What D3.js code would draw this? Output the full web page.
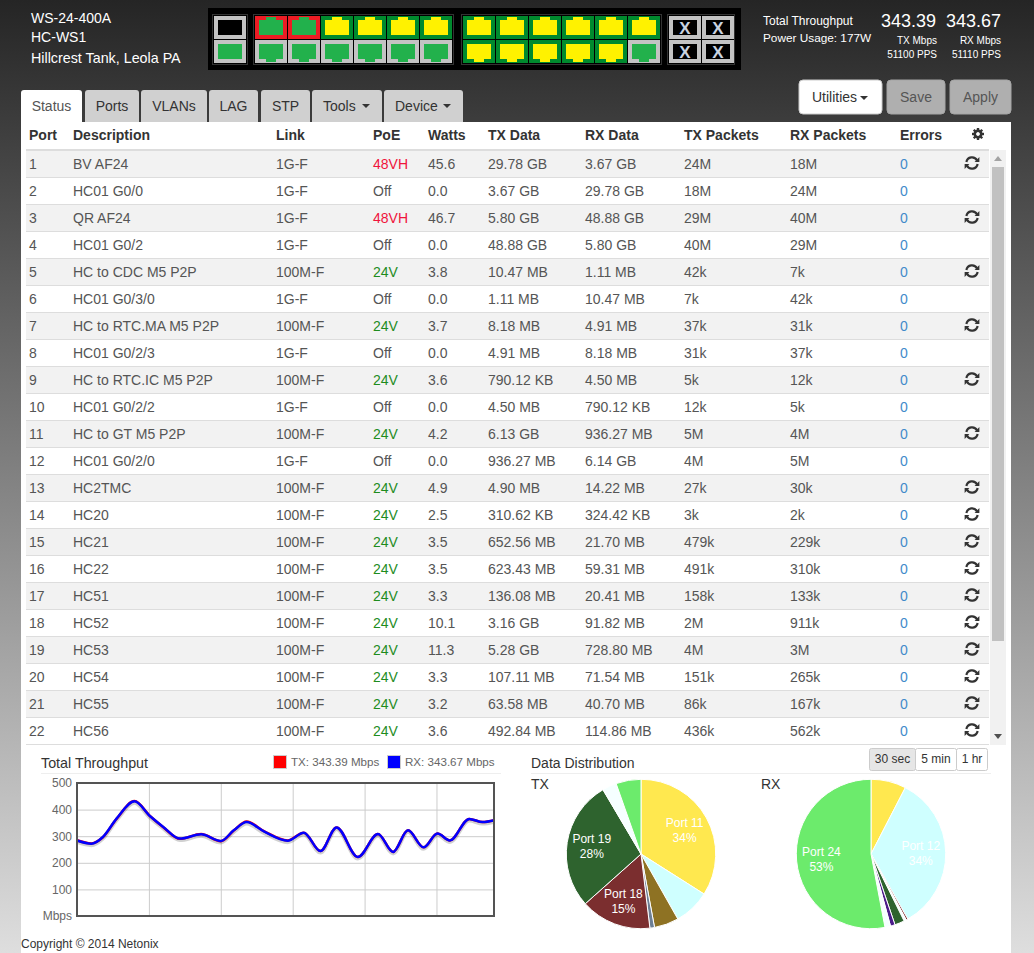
<!DOCTYPE html>
<html>
<head>
<meta charset="utf-8">
<script src="https://cdnjs.cloudflare.com/ajax/libs/d3/7.8.5/d3.min.js"></script>
<style>
html, body { margin: 0; padding: 0; overflow: hidden; }
svg { display: block; font-family: "Liberation Sans", Arial, sans-serif; }
.axis path { display: none; }
</style>
</head>
<body>
<div id="chart"></div>
<script>
// port table
var ports = d3.range(1, 23);
var descriptions = ["BV AF24", "HC01 G0/0", "QR AF24", "HC01 G0/2", "HC to CDC M5 P2P", "HC01 G0/3/0", "HC to RTC.MA M5 P2P", "HC01 G0/2/3", "HC to RTC.IC M5 P2P", "HC01 G0/2/2", "HC to GT M5 P2P", "HC01 G0/2/0", "HC2TMC", "HC20", "HC21", "HC22", "HC51", "HC52", "HC53", "HC54", "HC55", "HC56"];
var links = ["1G-F", "1G-F", "1G-F", "1G-F", "100M-F", "1G-F", "100M-F", "1G-F", "100M-F", "1G-F", "100M-F", "1G-F", "100M-F", "100M-F", "100M-F", "100M-F", "100M-F", "100M-F", "100M-F", "100M-F", "100M-F", "100M-F"];
var poe = ["48VH", "Off", "48VH", "Off", "24V", "Off", "24V", "Off", "24V", "Off", "24V", "Off", "24V", "24V", "24V", "24V", "24V", "24V", "24V", "24V", "24V", "24V"];
var watts = ["45.6", "0.0", "46.7", "0.0", "3.8", "0.0", "3.7", "0.0", "3.6", "0.0", "4.2", "0.0", "4.9", "2.5", "3.5", "3.5", "3.3", "10.1", "11.3", "3.3", "3.2", "3.6"];
var txData = ["29.78 GB", "3.67 GB", "5.80 GB", "48.88 GB", "10.47 MB", "1.11 MB", "8.18 MB", "4.91 MB", "790.12 KB", "4.50 MB", "6.13 GB", "936.27 MB", "4.90 MB", "310.62 KB", "652.56 MB", "623.43 MB", "136.08 MB", "3.16 GB", "5.28 GB", "107.11 MB", "63.58 MB", "492.84 MB"];
var rxData = ["3.67 GB", "29.78 GB", "48.88 GB", "5.80 GB", "1.11 MB", "10.47 MB", "4.91 MB", "8.18 MB", "4.50 MB", "790.12 KB", "936.27 MB", "6.14 GB", "14.22 MB", "324.42 KB", "21.70 MB", "59.31 MB", "20.41 MB", "91.82 MB", "728.80 MB", "71.54 MB", "40.70 MB", "114.86 MB"];
var txPackets = ["24M", "18M", "29M", "40M", "42k", "7k", "37k", "31k", "5k", "12k", "5M", "4M", "27k", "3k", "479k", "491k", "158k", "2M", "4M", "151k", "86k", "436k"];
var rxPackets = ["18M", "24M", "40M", "29M", "7k", "42k", "31k", "37k", "12k", "5k", "4M", "5M", "30k", "2k", "229k", "310k", "133k", "911k", "3M", "265k", "167k", "562k"];
var errors = ports.map(function() { return "0"; });
var headers = ["Port", "Description", "Link", "PoE", "Watts", "TX Data", "RX Data", "TX Packets", "RX Packets", "Errors"];
var tabNames = ["Status", "Ports", "VLANs", "LAG", "STP", "Tools", "Device"];

// front panel, top row then bottom row, each group left to right
var topBack = ["red", "red", "dark", "dark", "dark", "dark", "dark", "dark", "dark", "dark", "dark", "dark"];
var topLink = ["green", "green", "yellow", "yellow", "yellow", "yellow", "yellow", "yellow", "yellow", "yellow", "yellow", "yellow"];
var bottomBack = ["grey", "grey", "grey", "grey", "grey", "grey", "dark", "dark", "dark", "dark", "dark", "grey"];
var bottomLink = ["green", "green", "green", "green", "green", "green", "yellow", "yellow", "yellow", "yellow", "yellow", "green"];

// throughput history
var seconds = [0, 1, 1.8, 2.75, 4, 5.07, 6, 7.16, 8.63, 10, 10.9, 11.8, 13, 14.65, 15.77, 16.93, 18.05, 19.53, 20.93, 21.98, 23.02, 24.1, 25.07, 25.93, 27.28, 28.2, 29.03];
var txMbps = [285, 273, 296, 365, 432, 376, 334, 290, 308, 281, 321, 355, 319, 284, 313, 244, 333, 222, 308, 241, 322, 258, 310, 284, 365, 353, 360];
var rxMbps = [284, 272, 297, 366, 431, 376, 335, 291, 307, 282, 322, 353, 318, 283, 313, 244, 333, 222, 308, 241, 322, 258, 310, 284, 365, 353, 360];
var yTicks = [100, 200, 300, 400, 500];
var xTicks = [5, 10, 15, 20, 25];

// data distribution
var txPorts = ["Port 11", "Port 12", "Port 16", "Port 17", "Port 18", "Port 19", "Port 23", "Port 24"];
var txShare = [34, 7.8, 5.3, 1, 15.3, 28.1, 3.1, 5.4];
var txColors = ["#ffe84f", "#cfffff", "#8e7223", "#6d7f94", "#7b2e2f", "#2e632e", "#f5ffff", "#6ceb6c"];
var rxPorts = ["Port 11", "Port 12", "Port 18", "Port 19", "Port 20", "Port 21", "Port 23", "Port 24"];
var rxShare = [7.6, 34.2, 0.4, 0.5, 2.1, 1, 1.2, 53];
var rxColors = ["#ffe84f", "#cfffff", "#7b2e2f", "#f5ffff", "#2e632e", "#4b1c8a", "#f5ffff", "#6ceb6c"];

var svg = d3.select("#chart").append("svg").attr("width", 1034).attr("height", 953);

var defs = svg.append("defs");
var grad = defs.append("linearGradient").attr("id", "page").attr("x1", 0).attr("x2", 0).attr("y1", 0).attr("y2", 1);
grad.append("stop").attr("offset", "0%").attr("stop-color", "#252525");
grad.append("stop").attr("offset", "100%").attr("stop-color", "#dedede");
defs.append("clipPath").attr("id", "rows").append("rect").attr("x", 21).attr("y", 150).attr("width", 990).attr("height", 595);

svg.append("rect").attr("width", 1034).attr("height", 953).attr("fill", "url(#page)");
svg.append("rect").attr("x", 21).attr("y", 122).attr("width", 990).attr("height", 831).attr("fill", "#fff");

function label(parent, str, x, y, size, color, anchor, weight) {
    return parent.append("text").text(str)
        .attr("x", x).attr("y", y)
        .attr("font-size", size).attr("fill", color)
        .attr("text-anchor", anchor || "start")
        .attr("font-weight", weight || "normal");
}

function drawHeader() {
    label(svg, "WS-24-400A", 31, 23, 14, "#fff");
    label(svg, "HC-WS1", 31, 42, 14, "#fff");
    label(svg, "Hillcrest Tank, Leola PA", 31, 63, 14.3, "#fff");
    label(svg, "Total Throughput", 763, 25, 12, "#fff");
    label(svg, "Power Usage: 177W", 763, 42, 11.8, "#fff");
    label(svg, "343.39", 881, 27, 18, "#fff");
    label(svg, "343.67", 946, 27, 18, "#fff");
    label(svg, "TX Mbps", 937, 44, 10, "#fff", "end");
    label(svg, "RX Mbps", 1001, 44, 10, "#fff", "end");
    label(svg, "51100 PPS", 937, 58, 10, "#fff", "end");
    label(svg, "51110 PPS", 1001, 58, 10, "#fff", "end");
}

function drawPanel() {
    var backs = {red: "#ed1c24", dark: "#008a2e", grey: "#c3c3c3"};
    var fills = {green: "#22b14c", yellow: "#fff200"};
    var cellW = 33, cellH = 24, rowTop = 16;

    svg.append("rect").attr("x", 208).attr("y", 8).attr("width", 533).attr("height", 62).attr("fill", "#000");

    [[212.5, 35], [253.5, 200], [461.5, 200], [667.5, 67]].forEach(function(g) {
        svg.append("rect").attr("x", g[0]).attr("y", 14.5).attr("width", g[1]).attr("height", 50)
            .attr("fill", "none").attr("stroke", "#333");
    });

    // a port: coloured square with the RJ45 clip on the outer edge
    function port(x, y, back, fill, up) {
        var cell = svg.append("g").attr("transform", "translate(" + x + "," + y + ")");
        cell.append("rect").attr("width", cellW - 1).attr("height", cellH - 1).attr("fill", back);
        cell.append("rect").attr("x", 4).attr("y", 4).attr("width", 24).attr("height", 15).attr("fill", fill);
        cell.append("rect").attr("x", 11).attr("y", up ? 1 : 19).attr("width", 10).attr("height", 3).attr("fill", fill);
    }

    var xs = d3.range(12).map(function(i) { return i < 6 ? 255 + i * cellW : 463 + (i - 6) * cellW; });
    xs.forEach(function(x, i) {
        port(x, rowTop, backs[topBack[i]], fills[topLink[i]], true);
        port(x, rowTop + cellH, backs[bottomBack[i]], fills[bottomLink[i]], false);
    });

    // console and management jacks
    svg.append("rect").attr("x", 214).attr("y", 16).attr("width", 32).attr("height", 23).attr("fill", "#c3c3c3");
    svg.append("rect").attr("x", 218).attr("y", 20).attr("width", 24).attr("height", 15).attr("fill", "#000");
    svg.append("rect").attr("x", 214).attr("y", 40).attr("width", 32).attr("height", 23).attr("fill", "#c3c3c3");
    svg.append("rect").attr("x", 218).attr("y", 44).attr("width", 24).attr("height", 15).attr("fill", "#22b14c");

    // SFP cages, empty
    [669, 702].forEach(function(x) {
        [16, 40].forEach(function(y) {
            svg.append("rect").attr("x", x).attr("y", y).attr("width", 32).attr("height", 23).attr("fill", "#c3c3c3");
            svg.append("rect").attr("x", x + 4).attr("y", y + 4).attr("width", 24).attr("height", 15).attr("fill", "#000");
            label(svg, "X", x + 16, y + 18, 17, "#c9d3e0", "middle", "bold");
        });
    });
}

function caret(parent, x, y, color) {
    parent.append("path").attr("d", d3.line()([[x, y], [x + 8, y], [x + 4, y + 4]])).attr("fill", color);
}

function drawTabs() {
    var lefts = [21, 85, 141, 209, 261, 312, 384];
    var rights = [82, 139, 207, 258, 310, 382, 463];
    tabNames.forEach(function(name, i) {
        var active = i == 0;
        svg.append("path")
            .attr("d", "M" + lefts[i] + ",122V93a3,3 0 0 1 3,-3H" + (rights[i] - 3) + "a3,3 0 0 1 3,3V122Z")
            .attr("fill", active ? "#fff" : "#d0d0d0");
        var tx = lefts[i] + (i < 5 ? (rights[i] - lefts[i]) / 2 : 11);
        label(svg, name, tx, 111, 14, active ? "#555" : "#333", i < 5 ? "middle" : "start");
    });
    caret(svg, 362, 104, "#333");
    caret(svg, 443, 104, "#333");

    // buttons on the right
    [[799, 83, "#fff"], [887, 58, "#afafaf"], [950, 61, "#afafaf"]].forEach(function(b) {
        svg.append("rect").attr("x", b[0]).attr("y", 80).attr("width", b[1]).attr("height", 34).attr("rx", 4)
            .attr("fill", b[2]).attr("stroke", b[2] == "#fff" ? "#ccc" : "#a5a5a5").attr("stroke-width", 1);
    });
    label(svg, "Utilities", 812, 102, 14, "#333");
    caret(svg, 860, 96, "#333");
    label(svg, "Save", 916, 102, 14, "#555", "middle");
    label(svg, "Apply", 980.5, 102, 14, "#555", "middle");
}

function gear(parent, x, y) {
    var g = parent.append("g").attr("transform", "translate(" + x + "," + y + ")");
    g.append("circle").attr("r", 3.2).attr("fill", "none").attr("stroke", "#333").attr("stroke-width", 2.6);
    d3.range(8).forEach(function(i) {
        g.append("rect").attr("x", -1.2).attr("y", -6).attr("width", 2.4).attr("height", 2.6)
            .attr("fill", "#333").attr("transform", "rotate(" + i * 45 + ")");
    });
}

function refresh(parent, x, y) {
    var g = parent.append("g").attr("transform", "translate(" + x + "," + y + ")");
    var ring = d3.arc().innerRadius(4.6).outerRadius(6.8);
    g.append("path").attr("d", ring({startAngle: -1.4, endAngle: 1.1})).attr("fill", "#333");
    g.append("path").attr("d", ring({startAngle: 1.74, endAngle: 4.24})).attr("fill", "#333");
    g.append("path").attr("d", d3.line()([[2.6, -1], [7.4, -1], [7.4, -6]])).attr("fill", "#333");
    g.append("path").attr("d", d3.line()([[-2.6, 1], [-7.4, 1], [-7.4, 6]])).attr("fill", "#333");
}

function drawTable() {
    var colX = [29, 73, 276, 373, 428, 488, 585, 684, 790, 900];
    var cols = [ports, descriptions, links, poe, watts, txData, rxData, txPackets, rxPackets, errors];
    var rowY = d3.scaleBand().domain(ports).range([151, 151 + 27 * ports.length]);

    headers.forEach(function(h, i) {
        label(svg, h, colX[i], 140, 14, "#333", "start", "bold");
    });
    gear(svg, 978, 134);
    svg.append("rect").attr("x", 26).attr("y", 149).attr("width", 963).attr("height", 2).attr("fill", "#ddd");

    var body = svg.append("g").attr("clip-path", "url(#rows)");
    var rows = body.selectAll("g.row").data(ports).enter().append("g").attr("class", "row")
        .attr("transform", function(d) { return "translate(0," + rowY(d) + ")"; });

    rows.append("rect").attr("x", 26).attr("width", 963).attr("height", rowY.bandwidth())
        .attr("fill", function(d) { return d % 2 ? "#f2f2f2" : "#fff"; });
    rows.append("rect").attr("x", 26).attr("y", rowY.bandwidth() - 1).attr("width", 963).attr("height", 1).attr("fill", "#ddd");

    cols.forEach(function(col, c) {
        rows.append("text")
            .text(function(d, i) { return col[i]; })
            .attr("x", colX[c]).attr("y", 18)
            .attr("font-size", 14)
            .attr("fill", function(d, i) {
                if (c == 3) return poe[i] == "48VH" ? "#f0143c" : poe[i] == "24V" ? "#1e8c1e" : "#555";
                if (c == 9) return "#428bca";
                return "#555";
            });
    });

    rows.each(function(d, i) {
        if (poe[i] != "Off") refresh(d3.select(this), 972, 12);
    });

    // scrollbar
    svg.append("rect").attr("x", 990).attr("y", 150).attr("width", 16).attr("height", 595).attr("fill", "#f1f1f1");
    svg.append("rect").attr("x", 992).attr("y", 167).attr("width", 12).attr("height", 474).attr("fill", "#c1c1c1");
    svg.append("path").attr("d", d3.line()([[994, 161], [1002, 161], [998, 156]])).attr("fill", "#a3a3a3");
    svg.append("path").attr("d", d3.line()([[994, 734], [1002, 734], [998, 739]])).attr("fill", "#505050");
}

function drawThroughput() {
    var left = 77, right = 494, top = 783, bottom = 916;
    var x = d3.scaleLinear().domain([0, 29]).range([left, right]);
    var y = d3.scaleLinear().domain([0, 500]).range([bottom, top]);

    label(svg, "Total Throughput", 41, 768, 14.3, "#333");
    svg.append("rect").attr("x", 41).attr("y", 773).attr("width", 460).attr("height", 1).attr("fill", "#eee");

    svg.append("rect").attr("x", 273.5).attr("y", 755.5).attr("width", 13).attr("height", 13).attr("fill", "#f00").attr("stroke", "#ccc");
    label(svg, "TX: 343.39 Mbps", 291, 766, 11.6, "#666");
    svg.append("rect").attr("x", 387.5).attr("y", 755.5).attr("width", 13).attr("height", 13).attr("fill", "#00f").attr("stroke", "#ccc");
    label(svg, "RX: 343.67 Mbps", 405, 766, 11.6, "#666");

    svg.append("g").attr("class", "axis")
        .attr("transform", "translate(0," + bottom + ")")
        .call(d3.axisBottom(x).tickValues(xTicks).tickSize(top - bottom).tickFormat(""))
        .selectAll("line").attr("stroke", "#ccc");

    var yAxis = svg.append("g").attr("class", "axis")
        .attr("transform", "translate(" + left + ",0)")
        .call(d3.axisLeft(y).tickValues([0].concat(yTicks)).tickSize(left - right).tickPadding(5)
            .tickFormat(function(d) { return d == 0 ? "Mbps" : d; }));
    yAxis.selectAll("line").attr("stroke", "#ccc");
    yAxis.selectAll("text").attr("font-size", 12).attr("fill", "#666")
        .attr("font-family", "Liberation Sans, Arial, sans-serif");

    var line = d3.line().curve(d3.curveMonotoneX)
        .x(function(d, i) { return x(seconds[i]); })
        .y(function(d) { return y(d); });

    svg.append("path").datum(rxMbps).attr("d", line).attr("fill", "none")
        .attr("stroke", "#000").attr("stroke-opacity", 0.18).attr("stroke-width", 4)
        .attr("transform", "translate(0,1.5)");
    svg.append("path").datum(txMbps).attr("d", line).attr("fill", "none").attr("stroke", "#f00").attr("stroke-width", 2.5);
    svg.append("path").datum(rxMbps).attr("d", line).attr("fill", "none").attr("stroke", "#00f").attr("stroke-width", 2.5);

    svg.append("rect").attr("x", left).attr("y", top).attr("width", right - left).attr("height", bottom - top)
        .attr("fill", "none").attr("stroke", "#545454").attr("stroke-width", 2);
}

function drawPie(cx, names, values, colors) {
    var radius = 74.7;
    var pie = d3.pie().sort(null)(values);
    var arc = d3.arc().innerRadius(0).outerRadius(radius);
    var textArc = d3.arc().innerRadius(radius * 2 / 3).outerRadius(radius * 2 / 3);
    var g = svg.append("g").attr("transform", "translate(" + cx + ",854)");

    g.selectAll("path").data(pie).enter().append("path")
        .attr("d", arc)
        .attr("fill", function(d, i) { return colors[i]; })
        .attr("stroke", "#fff").attr("stroke-width", 1);

    pie.forEach(function(d, i) {
        if (values[i] < 10) return;
        var c = textArc.centroid(d);
        label(g, names[i], c[0], c[1] - 3, 12, "#fff", "middle");
        label(g, Math.round(values[i]) + "%", c[0], c[1] + 12, 12, "#fff", "middle");
    });
}

function drawDistribution() {
    label(svg, "Data Distribution", 531, 768, 14, "#333");
    svg.append("rect").attr("x", 531).attr("y", 773).attr("width", 460).attr("height", 1).attr("fill", "#eee");
    label(svg, "TX", 531, 789, 14, "#333");
    label(svg, "RX", 761, 789, 14, "#333");

    [[869, 46, "30 sec", "#e6e6e6"], [915, 41, "5 min", "#fff"], [956, 31, "1 hr", "#fff"]].forEach(function(b) {
        svg.append("rect").attr("x", b[0] + 0.5).attr("y", 748.5).attr("width", b[1]).attr("height", 22)
            .attr("fill", b[3]).attr("stroke", "#ccc").attr("rx", 2);
        label(svg, b[2], b[0] + b[1] / 2 + 0.5, 763, 12, "#333", "middle");
    });

    drawPie(641, txPorts, txShare, txColors);
    drawPie(871, rxPorts, rxShare, rxColors);
}

drawHeader();
drawPanel();
drawTabs();
drawTable();
drawThroughput();
drawDistribution();
label(svg, "Copyright © 2014 Netonix", 21, 948, 12, "#333");
</script>
</body>
</html>
